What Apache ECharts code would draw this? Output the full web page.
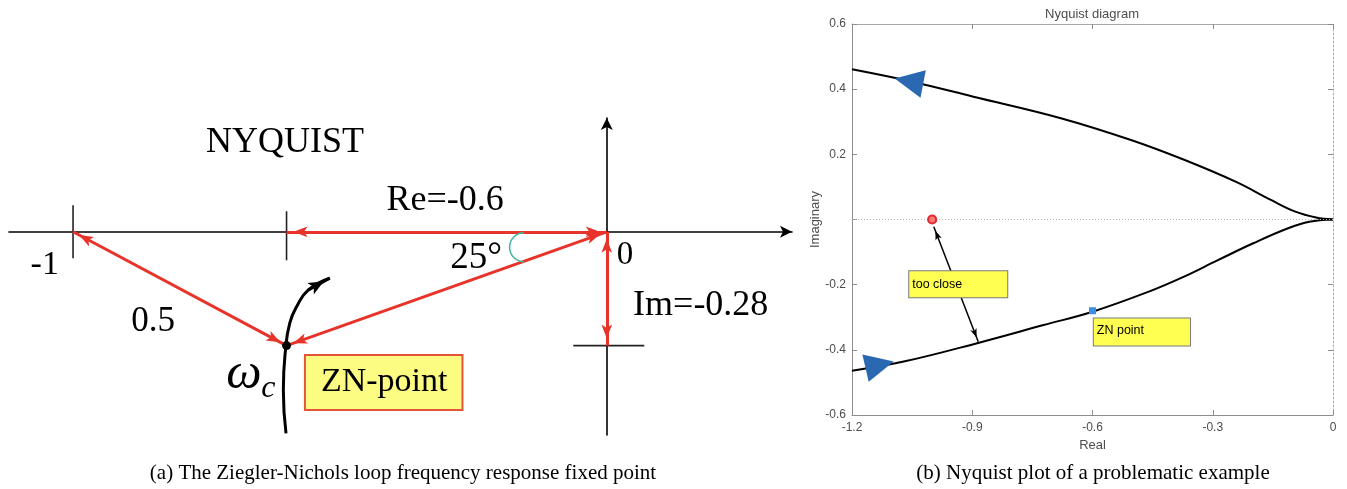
<!DOCTYPE html>
<html>
<head>
<meta charset="utf-8">
<script src="https://cdn.jsdelivr.net/npm/echarts@6/dist/echarts.min.js"></script>
<style>
  html, body { margin: 0; padding: 0; background: #fff; }
  #main { width: 1347px; height: 489px; }
</style>
</head>
<body>
<div id="main"></div>
<script>
// ---------- Panel (a): Ziegler-Nichols point in the Nyquist plane ----------
const criticalPoint = [-1, 0];
const planeOrigin = [0, 0];
const znPoint = [-0.6, -0.28];
// sketch of the loop frequency response passing through the ZN point
const omegaCurve = [
  [-0.601, -0.496], [-0.606, -0.389], [-0.602, -0.291], [-0.594, -0.225],
  [-0.581, -0.184], [-0.559, -0.143], [-0.519, -0.114]
];

// ---------- Panel (b): Nyquist plot of a problematic example ----------
const realTicks = [-1.2, -0.9, -0.6, -0.3, 0];
const imagTicks = [-0.6, -0.4, -0.2, 0, 0.2, 0.4, 0.6];
const upperBranch = [
  [-1.2, 0.461], [-1.05, 0.423], [-0.897, 0.377], [-0.679, 0.311], [-0.504, 0.244],
  [-0.373, 0.184], [-0.243, 0.116], [-0.155, 0.060], [-0.094, 0.024],
  [-0.042, 0.006], [0, 0]
];
const lowerBranch = [
  [-1.2, -0.464], [-1.071, -0.436], [-0.883, -0.378], [-0.722, -0.324],
  [-0.6, -0.283], [-0.461, -0.222], [-0.373, -0.176], [-0.286, -0.124],
  [-0.199, -0.073], [-0.112, -0.027], [-0.059, -0.007], [0, 0]
];
const minusOnePoint = [-1, 0];
const znPointB = [-0.6, -0.28];
// nearest approach of the curve to -1
const closestOnCurve = [-0.885, -0.375];

// derived labels
const reLabel = 'Re=' + znPoint[0];
const imLabel = 'Im=' + znPoint[1];
const distLabel = Math.hypot(znPoint[0] - criticalPoint[0], znPoint[1] - criticalPoint[1]).toFixed(1);
const angleLabel = Math.round(Math.atan2(-znPoint[1], -znPoint[0]) * 180 / Math.PI) + '°';

const SERIF = 'Liberation Serif, Times New Roman, serif';
const SANS = 'Liberation Sans, Arial, Helvetica, sans-serif';
const RED = '#e8332a';
const GRAYTXT = '#4d4d4d';
const BOX = '#8c8c8c';
const HIDDEN = { color: 'rgba(0,0,0,0)', opacity: 1 };

// text anchors for the schematic (plane coordinates)
const schematicText = [
  { at: [-0.603, 0.220], text: 'NYQUIST', size: 36 },
  { at: [-0.303, 0.076], text: reLabel, size: 36 },
  { at: [-0.245, -0.065], text: angleLabel, size: 37 },
  { at: [0.034, -0.059], text: String(planeOrigin[0]), size: 33 },
  { at: [0.176, -0.182], text: imLabel, size: 36 },
  { at: [-1.053, -0.081], text: String(criticalPoint[0]), size: 34 },
  { at: [-0.850, -0.221], text: distLabel, size: 35 },
  { at: [-0.680, -0.352], text: 'ω', size: 50, italic: true },
  { at: [-0.634, -0.387], text: 'c', size: 32, italic: true }
];

function arrowLine(a, b) {
  return [{ coord: a }, { coord: b }];
}

const option = {
  backgroundColor: '#fff',
  animation: false,
  grid: [
    { left: 9, top: 118, width: 783, height: 317 },
    { left: 852, top: 24, right: 14, bottom: 74 }
  ],
  xAxis: [
    {
      gridIndex: 0, type: 'value', min: -1.12, max: 0.347,
      axisLine: { show: true, onZero: true, symbol: ['none', 'arrow'], symbolSize: [9, 12],
        lineStyle: { color: '#000', width: 1.6 } },
      axisTick: { show: false }, axisLabel: { show: false }, splitLine: { show: false }
    },
    {
      gridIndex: 1, type: 'value', min: realTicks[0], max: realTicks[realTicks.length - 1], interval: 0.3,
      position: 'bottom',
      axisLine: { show: true, onZero: false, lineStyle: { color: BOX, width: 1 } },
      axisTick: { show: true, inside: true, length: 5, lineStyle: { color: BOX } },
      axisLabel: { color: GRAYTXT, fontSize: 12, fontFamily: SANS, margin: 7,
        formatter: v => String(Math.round(v * 10) / 10) },
      splitLine: { show: false },
      name: 'Real', nameLocation: 'middle', nameGap: 24,
      nameTextStyle: { color: GRAYTXT, fontSize: 13, fontFamily: SANS }
    },
    {
      gridIndex: 1, type: 'value', min: realTicks[0], max: realTicks[realTicks.length - 1], interval: 0.3,
      position: 'top',
      axisLine: { show: true, onZero: false, lineStyle: { color: '#a8a8a8', width: 1 } },
      axisTick: { show: true, inside: true, length: 5, lineStyle: { color: BOX } },
      axisLabel: { show: false }, splitLine: { show: false }
    }
  ],
  yAxis: [
    {
      gridIndex: 0, type: 'value', min: -0.5, max: 0.28,
      axisLine: { show: true, onZero: true, symbol: ['none', 'arrow'], symbolSize: [9, 12],
        lineStyle: { color: '#000', width: 1.6 } },
      axisTick: { show: false }, axisLabel: { show: false }, splitLine: { show: false }
    },
    {
      gridIndex: 1, type: 'value', min: imagTicks[0], max: imagTicks[imagTicks.length - 1], interval: 0.2,
      position: 'left',
      axisLine: { show: true, onZero: false, lineStyle: { color: BOX, width: 1 } },
      axisTick: { show: true, inside: true, length: 5, lineStyle: { color: BOX } },
      axisLabel: { color: GRAYTXT, fontSize: 12, fontFamily: SANS, margin: 6,
        formatter: v => (Math.abs(v) < 1e-9 ? '' : String(Math.round(v * 10) / 10)) },
      splitLine: { show: false },
      name: 'Imaginary', nameLocation: 'middle', nameGap: 28, nameRotate: 90,
      nameTextStyle: { color: GRAYTXT, fontSize: 13, fontFamily: SANS }
    },
    {
      gridIndex: 1, type: 'value', min: imagTicks[0], max: imagTicks[imagTicks.length - 1], interval: 0.2,
      position: 'right',
      axisLine: { show: true, onZero: false, lineStyle: { color: '#b0b0b0', width: 1, type: [2, 2] } },
      axisTick: { show: true, inside: true, length: 5, lineStyle: { color: BOX } },
      axisLabel: { show: false }, splitLine: { show: false }
    }
  ],
  graphic: [
    { type: 'text', x: 1092, y: 14, style: { text: 'Nyquist diagram', fill: GRAYTXT,
      font: '13px ' + SANS, textAlign: 'center', textVerticalAlign: 'middle' } },
    { type: 'text', x: 403, y: 473, style: { text: '(a) The Ziegler-Nichols loop frequency response fixed point',
      fill: '#000', font: '21px ' + SERIF, textAlign: 'center', textVerticalAlign: 'middle' } },
    { type: 'text', x: 1093, y: 473, style: { text: '(b) Nyquist plot of a problematic example',
      fill: '#000', font: '21px ' + SERIF, textAlign: 'center', textVerticalAlign: 'middle' } }
  ],
  series: [
    // ----- panel (a) -----
    {
      name: 'tickMarks', type: 'scatter', xAxisIndex: 0, yAxisIndex: 0, z: 3, silent: true,
      symbol: 'rect', itemStyle: { color: '#222', opacity: 1 },
      data: [
        { value: criticalPoint, symbolSize: [1.6, 53] },
        { value: [znPoint[0], 0], symbolSize: [1.6, 49], symbolOffset: [0, 4] },
        { value: [0, znPoint[1]], symbolSize: [71, 1.6], symbolOffset: [2, 0] }
      ]
    },
    {
      name: 'omega', type: 'line', xAxisIndex: 0, yAxisIndex: 0, z: 4, silent: true,
      data: omegaCurve, smooth: 0.5, showSymbol: false,
      lineStyle: { color: '#000', width: 3 },
      markLine: {
        silent: true, symbol: ['none', 'arrow'], symbolSize: [10, 15],
        symbolOffset: [[0, 0], [0, 7]],
        label: { show: false },
        lineStyle: { color: '#000', width: 3, type: 'solid' },
        data: [arrowLine(omegaCurve[omegaCurve.length - 2], omegaCurve[omegaCurve.length - 1])]
      }
    },
    {
      name: 'znVectors', type: 'scatter', xAxisIndex: 0, yAxisIndex: 0, z: 5, silent: true,
      data: [znPoint], symbol: 'circle', symbolSize: 9, itemStyle: { color: '#000', opacity: 1 },
      markLine: {
        silent: true, symbol: ['arrow', 'arrow'], symbolSize: [8, 14],
        symbolOffset: [[0, 7], [0, 7]],
        label: { show: false },
        lineStyle: { color: RED, width: 3, type: 'solid' },
        data: [
          arrowLine(znPoint, criticalPoint),
          arrowLine(znPoint, planeOrigin),
          arrowLine([znPoint[0], 0], planeOrigin),
          arrowLine(planeOrigin, [0, znPoint[1]])
        ]
      }
    },
    {
      name: 'angleArc', type: 'custom', xAxisIndex: 0, yAxisIndex: 0, z: 5, silent: true,
      data: [[-0.155, -0.038]],
      renderItem: function (params, api) {
        const c = api.coord([api.value(0), api.value(1)]);
        return {
          type: 'arc',
          shape: { cx: c[0], cy: c[1], r: 14.5, startAngle: Math.PI * 0.5, endAngle: Math.PI * 1.5, clockwise: true },
          style: { stroke: '#3fb79c', fill: null, lineWidth: 1.5 }
        };
      }
    },
    {
      name: 'schematicText', type: 'scatter', xAxisIndex: 0, yAxisIndex: 0, z: 6, silent: true,
      symbolSize: 1, itemStyle: HIDDEN,
      data: schematicText.map(t => ({
        value: t.at,
        label: {
          show: true, position: 'inside', formatter: t.text, color: '#000', opacity: 1,
          fontFamily: SERIF, fontSize: t.size, fontStyle: t.italic ? 'italic' : 'normal',
          align: 'center', verticalAlign: 'middle'
        }
      }))
    },
    {
      name: 'znBox', type: 'scatter', xAxisIndex: 0, yAxisIndex: 0, z: 6, silent: true,
      symbolSize: 1, itemStyle: HIDDEN,
      data: [{
        value: [-0.418, -0.371],
        label: {
          show: true, position: 'inside', formatter: 'ZN-point', color: '#000', opacity: 1,
          fontFamily: SERIF, fontSize: 34, lineHeight: 35,
          backgroundColor: '#fcfc82', borderColor: '#e2553b', borderWidth: 2,
          padding: [9, 14, 9, 15], align: 'center', verticalAlign: 'middle'
        }
      }]
    },

    // ----- panel (b) -----
    {
      name: 'upper', type: 'line', xAxisIndex: 1, yAxisIndex: 1, z: 3, silent: true,
      data: upperBranch, smooth: 0.4, showSymbol: false,
      lineStyle: { color: '#000', width: 2 },
      markLine: {
        silent: true, symbol: 'none', label: { show: false },
        lineStyle: { color: '#b5b5b5', width: 1, type: [1, 2] },
        data: [{ yAxis: 0 }]
      }
    },
    {
      name: 'lower', type: 'line', xAxisIndex: 1, yAxisIndex: 1, z: 3, silent: true,
      data: lowerBranch, smooth: 0.4, showSymbol: false,
      lineStyle: { color: '#000', width: 2 }
    },
    {
      name: 'direction', type: 'scatter', xAxisIndex: 1, yAxisIndex: 1, z: 4, silent: true,
      symbol: 'triangle', symbolSize: [28, 29], itemStyle: { color: '#2a69b1', opacity: 1 },
      data: [
        { value: [-1.058, 0.4245], symbolRotate: 79 },
        { value: [-1.131, -0.446], symbolRotate: -77 }
      ]
    },
    {
      name: 'minusOne', type: 'scatter', xAxisIndex: 1, yAxisIndex: 1, z: 5, silent: true,
      data: [minusOnePoint], symbol: 'circle', symbolSize: 8,
      itemStyle: { color: '#f47c7c', borderColor: '#e52b2b', borderWidth: 2.2, opacity: 1 },
      markLine: {
        silent: true, symbol: ['arrow', 'arrow'], symbolSize: [5, 9],
        symbolOffset: [[0, 4.5], [0, 4.5]],
        label: { show: false },
        lineStyle: { color: '#000', width: 1.5, type: 'solid' },
        data: [arrowLine([-0.996, -0.022], closestOnCurve)]
      }
    },
    {
      name: 'znPoint', type: 'scatter', xAxisIndex: 1, yAxisIndex: 1, z: 5, silent: true,
      data: [znPointB], symbol: 'rect', symbolSize: 7, itemStyle: { color: '#3d8fe3', opacity: 1 }
    },
    {
      name: 'notes', type: 'scatter', xAxisIndex: 1, yAxisIndex: 1, z: 8, silent: true,
      symbolSize: 1, itemStyle: HIDDEN,
      data: [
        { value: [-1.056, -0.160], label: { formatter: 'too close', padding: [6, 45, 6, 3] } },
        { value: [-0.5955, -0.305], label: { formatter: 'ZN point', padding: [5, 46, 8, 3] } }
      ],
      label: {
        show: true, position: [0, 0], align: 'left', verticalAlign: 'top',
        color: '#000', opacity: 1, fontFamily: SANS, fontSize: 12.5, lineHeight: 14,
        backgroundColor: '#ffff52', borderColor: '#7a7a7a', borderWidth: 1
      }
    }
  ]
};

const chart = echarts.init(document.getElementById('main'), null, { renderer: 'canvas' });
chart.setOption(option);
</script>
</body>
</html>
